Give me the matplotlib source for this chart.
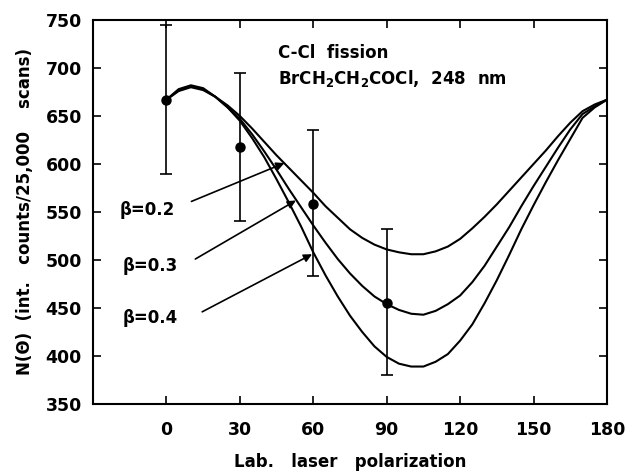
import matplotlib
matplotlib.use('Agg')
import matplotlib.pyplot as plt

plt.rcParams['font.family'] = ['DejaVu Sans']

# Measured points with error bars
theta_pts = [0, 30, 60, 90]
counts_pts = [667, 618, 558, 455]
err_low = [590, 541, 483, 380]
err_high = [745, 695, 635, 532]

theta_fit = list(range(0, 181, 5))
beta_02 = [667, 676, 680, 677, 670, 661, 650, 637, 623, 609, 596, 583, 570,
           556, 544, 532, 523, 516, 511, 508, 506, 506, 509, 514, 522, 533,
           545, 558, 572, 586, 600, 614, 629, 643, 655, 662, 667]
beta_03 = [667, 677, 681, 678, 670, 659, 647, 631, 613, 594, 574, 555, 536,
           518, 501, 486, 473, 462, 454, 448, 444, 443, 447, 454, 463, 477,
           494, 514, 534, 556, 577, 597, 617, 636, 652, 660, 667]
beta_04 = [667, 678, 682, 679, 670, 659, 645, 627, 607, 584, 560, 535, 508,
           484, 462, 442, 425, 410, 399, 392, 389, 389, 394, 402, 416, 433,
           455, 479, 505, 532, 557, 581, 604, 626, 648, 659, 667]

beta_labels = ["\u03b2=0.2", "\u03b2=0.3", "\u03b2=0.4"]
label_pos = [(-19, 552), (-18, 494), (-18, 440)]
arrow_from = [(10.2, 561), (11.8, 501), (14.6, 446)]
arrow_to = [(48.2, 601), (52.9, 562), (59.5, 506)]

fig = plt.figure(figsize=(6.26, 4.71), dpi=100)
ax = fig.add_axes([0.1486, 0.1423, 0.821, 0.8152])

for ys in (beta_02, beta_03, beta_04):
    ax.plot(theta_fit, ys, '-', color='black', linewidth=1.5)

yerr = [[c - lo for c, lo in zip(counts_pts, err_low)],
        [hi - c for c, hi in zip(counts_pts, err_high)]]
ax.errorbar(theta_pts, counts_pts, yerr=yerr, fmt='o', color='black',
            markersize=6.5, capsize=4, elinewidth=1.2, capthick=1.2)

for lab, pos, a0, a1 in zip(beta_labels, label_pos, arrow_from, arrow_to):
    ax.text(pos[0], pos[1], lab, fontsize=12, fontweight='bold',
            va='center', ha='left')
    ax.annotate("", xy=a1, xytext=a0,
                arrowprops=dict(arrowstyle='-|>', color='black', lw=1.2,
                                mutation_scale=12, shrinkA=0, shrinkB=0))

ax.text(45.7, 716, "C-Cl  fission", fontsize=12, fontweight='bold',
        va='center', ha='left')
ax.text(45.7, 689, r"BrCH$_\mathbf{2}$CH$_\mathbf{2}$COCl,  248  nm",
        fontsize=12, fontweight='bold', va='center', ha='left')

ax.set_xlim(-30, 180)
ax.set_ylim(350, 750)
ax.set_xticks([0, 30, 60, 90, 120, 150, 180])
ax.set_yticks(range(350, 751, 50))
ax.tick_params(direction='in', top=True, right=True, length=6, width=1.2,
               labelsize=12.5)
ax.tick_params(axis='x', pad=12)
ax.tick_params(axis='y', pad=8)
for t in ax.get_xticklabels() + ax.get_yticklabels():
    t.set_fontweight('bold')
for s in ax.spines.values():
    s.set_linewidth(1.5)

ax.set_xlabel("Lab.   laser   polarization", fontsize=12, fontweight='bold',
              labelpad=10)
ax.set_ylabel("N(\u0398)  (int.   counts/25,000    scans)", fontsize=12,
              fontweight='bold', labelpad=8)

fig.savefig("out.png", dpi=100)
plt.close(fig)
